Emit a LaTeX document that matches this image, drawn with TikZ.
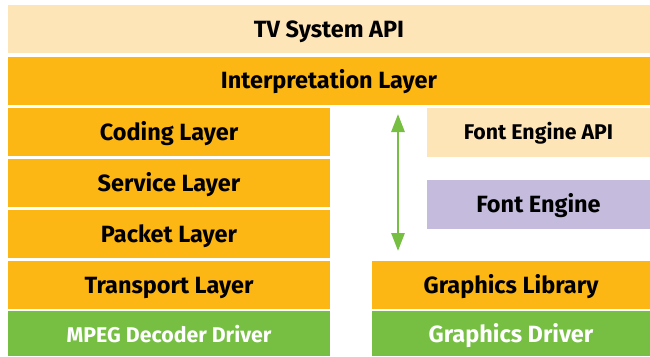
\documentclass[tikz,border=0pt]{standalone}
\usepackage{fontspec}
\setmainfont{Fira Sans}
\usetikzlibrary{arrows.meta}
\definecolor{lightorange}{HTML}{FDE5B8}
\definecolor{orangeY}{HTML}{FDB715}
\definecolor{greenL}{HTML}{76BF43}
\definecolor{purpleL}{HTML}{C5BCDD}
\tikzset{
  box/.style={rectangle, inner sep=0pt, outer sep=0pt, draw=none, font=\bfseries\fontsize{23.5}{26}\selectfont, text=black, text height=18pt, text depth=2pt},
  smallbox/.style={box, font=\bfseries\fontsize{21.3}{24}\selectfont, text height=16pt, text depth=2pt},
  biarrow/.style={draw=greenL, line width=2.8pt, {Triangle[width=13pt,length=18pt]}-{Triangle[width=13pt,length=18pt]}},
}
\begin{document}
\begin{tikzpicture}[x=1pt,y=-1pt]
\useasboundingbox (0,0) rectangle (650,356);
\fill[white] (0,0) rectangle (650,356);
% full-width bars
\node[box, fill=lightorange, minimum width=642pt, minimum height=48pt] (tvapi) at (329,29) {TV System API};
\node[box, fill=orangeY, minimum width=642pt, minimum height=48pt] (interp) at (329,80.5) {Interpretation Layer};
% left column
\node[box, fill=orangeY, minimum width=322pt, minimum height=48pt] (coding) at (169,132) {Coding Layer};
\node[box, fill=orangeY, minimum width=322pt, minimum height=48pt] (service) at (169,183) {Service Layer};
\node[box, fill=orangeY, minimum width=322pt, minimum height=48pt] (packet) at (169,234) {Packet Layer};
\node[box, fill=orangeY, minimum width=322pt, minimum height=48pt] (transport) at (169,285) {Transport Layer};
\node[smallbox, fill=greenL, text=white, minimum width=322pt, minimum height=45pt, text height=20pt] (mpeg) at (169,333.5) {MPEG Decoder Driver};
% right column
\node[smallbox, fill=lightorange, minimum width=223pt, minimum height=49pt] (feapi) at (538.5,132) {Font Engine API};
\node[box, fill=purpleL, minimum width=223pt, minimum height=49pt] (fe) at (538.5,204.5) {Font Engine};
\node[box, fill=orangeY, minimum width=278pt, minimum height=48pt] (glib) at (511,285) {Graphics Library};
\node[box, fill=greenL, text=white, minimum width=278pt, minimum height=45pt, text height=20pt] (gdrv) at (511,333.5) {Graphics Driver};
% arrow
\coordinate (atop) at (398,114);
\coordinate (abot) at (398,251);
\draw[biarrow] (atop) -- (abot);
\end{tikzpicture}
\end{document}
